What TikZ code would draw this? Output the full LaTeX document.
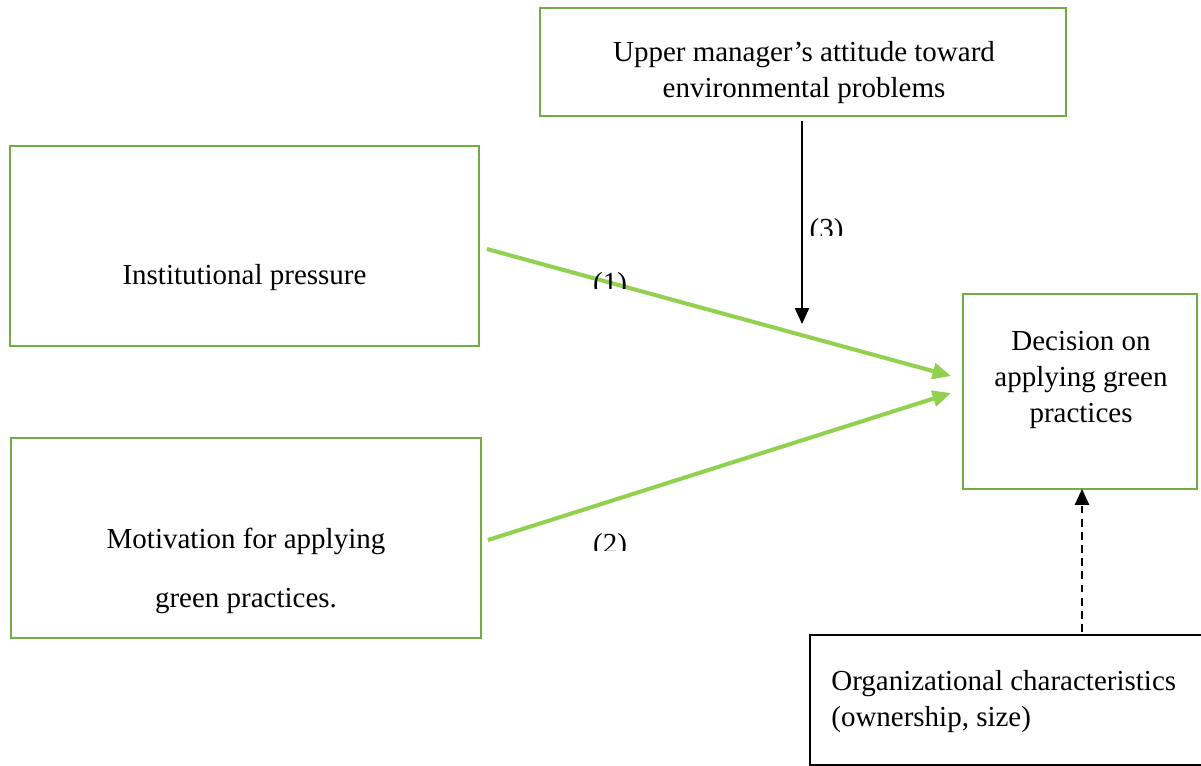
\documentclass[tikz,border=0pt]{standalone}
\usepackage{fontspec}
\setmainfont{Liberation Serif}
\usetikzlibrary{arrows.meta}

\definecolor{framegreen}{RGB}{112,173,71}
\definecolor{pathgreen}{RGB}{146,208,80}

\tikzset{
    frame/.style={draw=framegreen, line width=1.1pt, inner sep=0pt},
    txt/.style={align=center, inner sep=0pt, font=\fontsize{16.5}{20.5}\selectfont},
    num/.style={inner sep=0pt, font=\fontsize{16.5}{20.5}\selectfont},
    link/.style={draw=pathgreen, line width=2.3pt, -{Triangle[length=10.5pt,width=9pt]}},
}

\begin{document}
\begin{tikzpicture}[x=0.02cm, y=-0.02cm]
    \path[use as bounding box, clip] (0, 0) rectangle (1201, 765);

    \node[frame, minimum width=10.52cm, minimum height=2.16cm] at (803, 62) (upper) {};
    \node[txt] at (804, 73) (upperTxt) {Upper manager’s attitude toward\\environmental problems};

    \node[frame, minimum width=9.38cm, minimum height=4cm] at (244.5, 246) (inst) {};
    \node[txt] at (244.5, 278) (instTxt) {Institutional pressure};

    \node[frame, minimum width=9.4cm, minimum height=4cm] at (246, 538) (motiv) {};
    \node[txt, font=\fontsize{16.5}{33.5}\selectfont] at (246, 570.5) (motivTxt) {Motivation for applying\\green practices.};

    \node[frame, minimum width=4.68cm, minimum height=3.9cm] at (1080, 391.5) (dec) {};
    \node[txt] at (1081, 379.5) (decTxt) {Decision on\\applying green\\practices};

    \node[draw, line width=1.1pt, minimum width=8cm, minimum height=2.6cm, anchor=north west] at (809, 634) (org) {};
    \node[txt, align=left, anchor=west] at (831, 702) (orgTxt) {Organizational characteristics\\(ownership, size)};

    % paths
    \draw[link] ([shift={(7, 3)}]inst.east) -- ([shift={(-11, -15.5)}]dec.west);
    \draw[link] ([shift={(6, 2)}]motiv.east) -- ([shift={(-11, 1.5)}]dec.west);

    \coordinate (mod) at (802, 324);
    \draw[line width=0.9pt, -{Triangle[length=9pt,width=8pt]}] ([shift={(-1, 4)}]upper.south) -- (mod);
    \draw[line width=1.1pt, dash pattern=on 4.5pt off 3pt, -{Triangle[length=9pt,width=8pt]}] ([shift={(273, -2)}]org.north west) -- ([shift={(2, -1)}]dec.south);

    % labels, cut off at the bottom
    \foreach \n/\lx/\ly/\cut in {1/610/285.5/288, 2/610/546.5/550, 3/826.5/231.5/235} {
        \begin{scope}
            \clip (\lx-30, \ly-30) rectangle (\lx+30, \cut);
            \node[num] at (\lx, \ly) (lab\n) {(\n)};
        \end{scope}
    }
\end{tikzpicture}
\end{document}
